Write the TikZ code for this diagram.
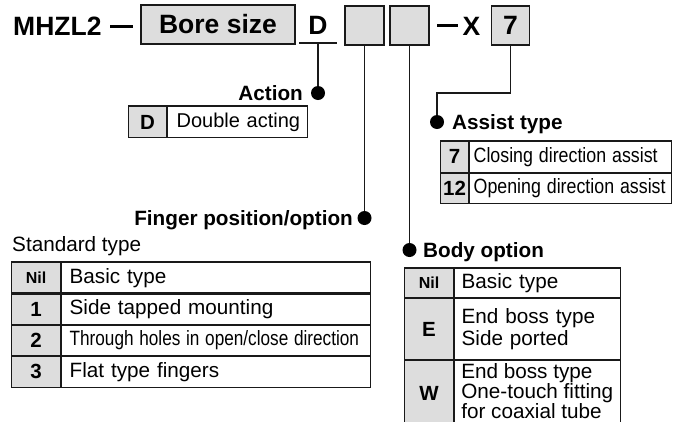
\documentclass[tikz,border=0pt]{standalone}
\usepackage{fontspec}
\setmainfont{Liberation Sans}
\usepackage{graphicx}
\usepackage{xcolor}
\usepackage{tikz}
\usetikzlibrary{positioning}
\definecolor{keygray}{RGB}{221,221,221}
\definecolor{inkline}{RGB}{25,25,25}
\newcommand\hdfont{\fontsize{26.5}{30}\selectfont\bfseries}
\newcommand\lblfont{\fontsize{20.7}{24}\selectfont\bfseries}
\newcommand\cellfont{\fontsize{20.7}{22}\selectfont}
\newcommand\keyfont{\fontsize{20.5}{22}\selectfont\bfseries}
\newcommand\nilfont{\fontsize{16}{18}\selectfont\bfseries}
\newcommand\narrow[2][0.87]{\scalebox{#1}[1]{#2}}
\tikzset{
  % Boxes of the model code
  codebox/.style={rectangle, draw=inkline, line width=1.6pt, fill=keygray,
                  font=\hdfont, minimum height=39pt, inner sep=0pt},
  codetext/.style={font=\hdfont, inner sep=0pt},
  % Table cells
  keycell/.style={rectangle, draw=inkline, line width=1.1pt, fill=keygray,
                  font=\keyfont, inner sep=0pt},
  desccell/.style={rectangle, draw=inkline, line width=1.1pt, fill=white,
                   font=\cellfont, align=left, inner xsep=8pt, inner ysep=0pt},
  topline/.style={line width=2.8pt, draw=inkline},
  % Labels, dots and leader lines
  lbl/.style={font=\lblfont, inner sep=0pt},
  dotmark/.style={circle, fill=black, inner sep=0pt, minimum size=14pt},
  conn/.style={line width=1.5pt, draw=inkline},
}

\begin{document}
\begin{tikzpicture}[x=1pt,y=-1pt]
    \useasboundingbox (0,0) rectangle (677,421);
    \clip (0,0) rectangle (677,421);

    %% -- Model code -----------------------------------------
    \node[codetext, anchor=base west] (model) at (13,35.5) {MHZL2};
    \node[inner sep=0pt] (dash1) at (121.5,26.5) {\rule{23pt}{3.2pt}};
    \node[codebox, minimum width=154pt] (bore) at (218,24.5) {Bore size};
    \node[codetext, minimum width=37pt, minimum height=35pt]
         (actcode) at (318,25.5) {D};
    \node[codebox, minimum width=39pt] (fingcode) at (364.5,25.5) {};
    \node[codebox, minimum width=39pt] (bodycode) at (409.5,25.5) {};
    \node[inner sep=0pt] (dash2) at (447.5,25.5) {\rule{21pt}{3.2pt}};
    \node[codetext, anchor=base] (xcode) at (471.5,35.5) {X};
    \node[codebox, minimum width=38pt] (asscode) at (510.5,25.5) {7};

    %% -- Action ---------------------------------------------
    \node[dotmark] (actdot) at (318,93) {};
    \node[lbl, anchor=base east] (actlbl) at (303,100.4) {Action};
    \node[keycell, minimum width=38pt, minimum height=31pt, anchor=north west]
         (actkey) at (128,106) {D};
    \node[desccell, font=\fontsize{20}{22}\selectfont, inner xsep=9pt,
          text width=122pt, minimum height=31pt, right=0pt of actkey]
         (actdesc) {\mbox{Double acting}};
    \draw[topline] (actkey.north west) -- (actdesc.north east);

    %% -- Assist type ----------------------------------------
    \node[dotmark] (assdot) at (437,122) {};
    \node[lbl, anchor=base west] (asslbl) at (452,129.4) {Assist type};
    \node[keycell, minimum width=28pt, minimum height=30.5pt, anchor=north west]
         (ass7) at (440,141) {7};
    \node[desccell, inner xsep=4pt, text width=194pt, minimum height=30.5pt,
          right=0pt of ass7] (ass7desc) {\narrow[0.86]{Closing direction assist}};
    \node[keycell, minimum width=28pt, minimum height=30.5pt, below=0pt of ass7]
         (ass12) {12};
    \node[desccell, inner xsep=4pt, text width=194pt, minimum height=30.5pt,
          right=0pt of ass12] (ass12desc) {\narrow[0.86]{Opening direction assist}};
    \draw[topline] (ass7.north west) -- (ass7desc.north east);

    %% -- Finger position/option -----------------------------
    \node[dotmark] (fingdot) at (364.5,218) {};
    \node[lbl, anchor=base east] (finglbl) at (353,225.4) {Finger position/option};
    \node[font=\cellfont, anchor=base west, inner sep=0pt]
         (stdlbl) at (12,251.5) {Standard type};
    \node[keycell, font=\nilfont, minimum width=49pt, minimum height=30.3pt,
          anchor=north west] (stdnil) at (11,262) {Nil};
    \node[desccell, text width=293pt, minimum height=30.3pt, right=0pt of stdnil]
         (stdnildesc) {Basic type};
    \node[keycell, minimum width=49pt, minimum height=30.3pt, below=0pt of stdnil]
         (std1) {1};
    \node[desccell, text width=293pt, minimum height=30.3pt, right=0pt of std1]
         (std1desc) {Side tapped mounting};
    \node[keycell, minimum width=49pt, minimum height=30.3pt, below=0pt of std1]
         (std2) {2};
    \node[desccell, text width=293pt, minimum height=30.3pt, right=0pt of std2]
         (std2desc) {\narrow[0.83]{Through holes in open/close direction}};
    \node[keycell, minimum width=49pt, minimum height=30.3pt, below=0pt of std2]
         (std3) {3};
    \node[desccell, text width=293pt, minimum height=30.3pt, right=0pt of std3]
         (std3desc) {Flat type fingers};
    \draw[topline] (stdnil.north west) -- (stdnildesc.north east);

    %% -- Body option ----------------------------------------
    \node[dotmark] (bodydot) at (409.5,250) {};
    \node[lbl, anchor=base west] (bodylbl) at (423,257.4) {Body option};
    \node[keycell, font=\nilfont, minimum width=49pt, minimum height=29pt,
          anchor=north west] (bodynil) at (404,268) {Nil};
    \node[desccell, inner xsep=7pt, text width=152pt, minimum height=29pt,
          right=0pt of bodynil] (bodynildesc) {Basic type};
    \node[keycell, minimum width=49pt, minimum height=61pt, below=0pt of bodynil]
         (bodye) {E};
    \node[desccell, inner xsep=7pt, text width=152pt, minimum height=61pt,
          right=0pt of bodye] (bodyedesc) {End boss type\\Side ported};
    \node[keycell, minimum width=49pt, minimum height=66pt, below=0pt of bodye]
         (bodyw) {W};
    \node[desccell, inner xsep=7pt, text width=152pt, minimum height=66pt,
          right=0pt of bodyw] (bodywdesc) {};
    \node[font=\cellfont, align=left, inner sep=0pt, anchor=west]
         (bodywtext) at ([xshift=7pt,yshift=3pt]bodywdesc.west)
         {End boss type\\[-2pt]One-touch fitting\\[-2pt]for coaxial tube};
    \draw[topline] (bodynil.north west) -- (bodynildesc.north east);

    %% -- Leader lines ---------------------------------------
    \draw[conn] (actcode.south west) -- (actcode.south east);
    \draw[conn] (actcode.south) -- (actdot);
    \draw[conn] (fingcode.south) -- (fingdot);
    \draw[conn] (bodycode.south) -- (bodydot);
    \draw[conn] (asscode.south) -- ++(0,47) -| (assdot);

\end{tikzpicture}
\end{document}
